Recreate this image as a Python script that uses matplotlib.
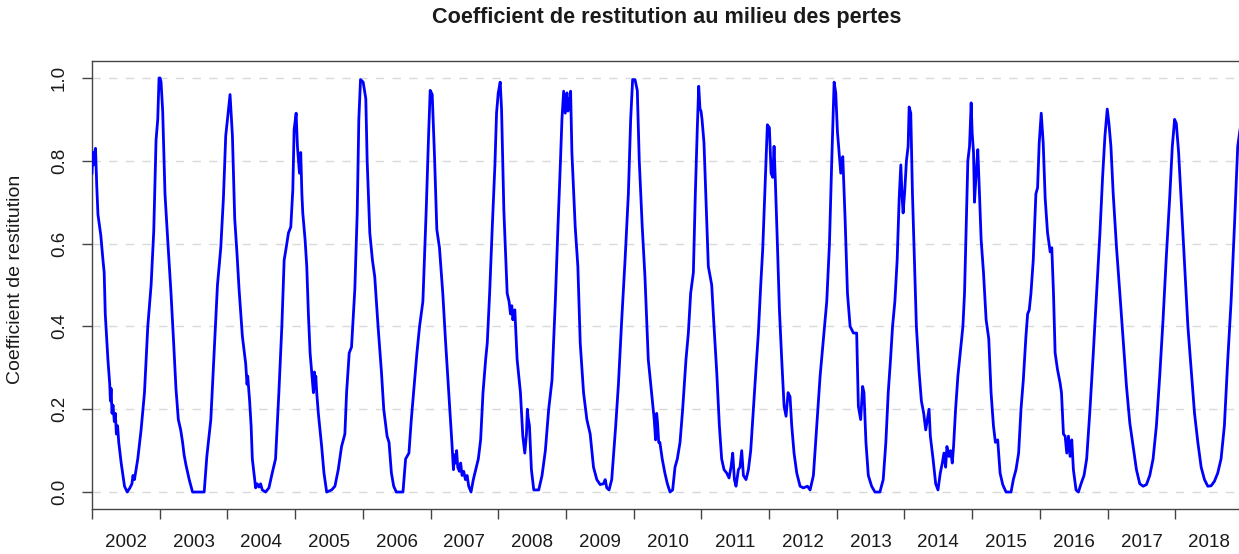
import numpy as np
import matplotlib
matplotlib.use("Agg")
import matplotlib.pyplot as plt
from matplotlib.ticker import FixedLocator, NullFormatter

# Weekly-ish readings of the restitution coefficient (decimal year, value)
dates = [
    2002.000, 2002.012, 2002.025, 2002.039, 2002.052, 2002.070, 2002.088, 2002.130, 2002.162, 2002.180,
    2002.196, 2002.235, 2002.262, 2002.272, 2002.282, 2002.296, 2002.310, 2002.330, 2002.345, 2002.360,
    2002.378, 2002.395, 2002.431, 2002.480, 2002.520, 2002.560, 2002.590, 2002.605, 2002.627, 2002.676,
    2002.725, 2002.775, 2002.824, 2002.873, 2002.912, 2002.946, 2002.971, 2002.990, 2003.005,
    2003.020, 2003.044, 2003.078, 2003.118, 2003.167, 2003.206, 2003.240, 2003.275, 2003.310, 2003.338,
    2003.360, 2003.387, 2003.436, 2003.485, 2003.657, 2003.696, 2003.755, 2003.804, 2003.853, 2003.902,
    2003.941, 2003.975,
    2004.010, 2004.039, 2004.074, 2004.108, 2004.140, 2004.172, 2004.221, 2004.270, 2004.290, 2004.300,
    2004.328, 2004.350, 2004.368, 2004.417, 2004.440, 2004.466, 2004.490, 2004.515, 2004.564, 2004.613,
    2004.662, 2004.711, 2004.760, 2004.804, 2004.838, 2004.868, 2004.902, 2004.936, 2004.966, 2004.985,
    2005.015, 2005.034, 2005.050, 2005.064, 2005.083, 2005.100, 2005.113, 2005.147, 2005.172, 2005.196,
    2005.221, 2005.270, 2005.285, 2005.294, 2005.305, 2005.319, 2005.343, 2005.392, 2005.426, 2005.466,
    2005.539, 2005.588, 2005.637, 2005.686, 2005.735, 2005.760, 2005.799, 2005.833, 2005.882, 2005.917,
    2005.941, 2005.966,
    2006.005, 2006.025, 2006.044, 2006.064, 2006.103, 2006.142, 2006.176, 2006.225, 2006.275, 2006.309,
    2006.358, 2006.387, 2006.422, 2006.456, 2006.495, 2006.593, 2006.632, 2006.681, 2006.716, 2006.765,
    2006.799, 2006.838, 2006.887, 2006.936, 2006.971, 2006.995,
    2007.025, 2007.059, 2007.093, 2007.132, 2007.181, 2007.221, 2007.270, 2007.319, 2007.338, 2007.355,
    2007.368, 2007.385, 2007.402, 2007.426, 2007.445, 2007.466, 2007.490, 2007.515, 2007.540, 2007.564,
    2007.598, 2007.632, 2007.667, 2007.706, 2007.740, 2007.775, 2007.814, 2007.838, 2007.873, 2007.912,
    2007.951, 2007.975,
    2008.000, 2008.029, 2008.049, 2008.083, 2008.132, 2008.160, 2008.181, 2008.200, 2008.216, 2008.245,
    2008.279, 2008.328, 2008.363, 2008.392, 2008.417, 2008.430, 2008.441, 2008.461, 2008.490, 2008.525,
    2008.598, 2008.647, 2008.696, 2008.745, 2008.794, 2008.843, 2008.882, 2008.917, 2008.941, 2008.966,
    2008.990,
    2009.015, 2009.030, 2009.039, 2009.055, 2009.069, 2009.088, 2009.137, 2009.176, 2009.211, 2009.260,
    2009.309, 2009.358, 2009.407, 2009.456, 2009.505, 2009.554, 2009.580, 2009.603, 2009.637, 2009.676,
    2009.735, 2009.775, 2009.824, 2009.873, 2009.922, 2009.956, 2009.985,
    2010.020, 2010.054, 2010.083, 2010.127, 2010.167, 2010.216, 2010.265, 2010.304, 2010.324, 2010.340,
    2010.353, 2010.370, 2010.387, 2010.422, 2010.461, 2010.498, 2010.537, 2010.576, 2010.611, 2010.645,
    2010.685, 2010.724, 2010.773, 2010.808, 2010.842, 2010.882, 2010.911, 2010.941, 2010.961, 2010.980,
    2010.995,
    2011.010, 2011.039, 2011.069, 2011.103, 2011.153, 2011.187, 2011.227, 2011.266, 2011.300, 2011.335,
    2011.374, 2011.409, 2011.438, 2011.463, 2011.488, 2011.512, 2011.547, 2011.571, 2011.596, 2011.621,
    2011.660, 2011.695, 2011.729, 2011.768, 2011.808, 2011.842, 2011.877, 2011.906, 2011.941, 2011.975,
    2012.005, 2012.030, 2012.054, 2012.074, 2012.094, 2012.123, 2012.153, 2012.187, 2012.222, 2012.251,
    2012.281, 2012.310, 2012.335, 2012.369, 2012.409, 2012.458, 2012.507, 2012.567, 2012.606, 2012.655,
    2012.704, 2012.754, 2012.803, 2012.852, 2012.892, 2012.926, 2012.961, 2012.985,
    2013.010, 2013.034, 2013.059, 2013.089, 2013.123, 2013.158, 2013.197, 2013.246, 2013.294, 2013.319,
    2013.353, 2013.382, 2013.402, 2013.431, 2013.466, 2013.515, 2013.564, 2013.637, 2013.686, 2013.725,
    2013.760, 2013.794, 2013.824, 2013.858, 2013.892, 2013.922, 2013.946, 2013.966, 2013.980,
    2014.005, 2014.029, 2014.054, 2014.069, 2014.093, 2014.118, 2014.152, 2014.176, 2014.216, 2014.250,
    2014.284, 2014.314, 2014.338, 2014.363, 2014.382, 2014.422, 2014.461, 2014.495, 2014.529, 2014.559,
    2014.583, 2014.608, 2014.627, 2014.657, 2014.681, 2014.706, 2014.725, 2014.755, 2014.789, 2014.824,
    2014.863, 2014.887, 2014.912, 2014.936, 2014.961, 2014.985,
    2015.000, 2015.020, 2015.034, 2015.059, 2015.083, 2015.108, 2015.132, 2015.167, 2015.206, 2015.245,
    2015.279, 2015.314, 2015.343, 2015.377, 2015.412, 2015.451, 2015.500, 2015.574, 2015.608, 2015.647,
    2015.686, 2015.721, 2015.755, 2015.794, 2015.819, 2015.843, 2015.868, 2015.902, 2015.941, 2015.966,
    2015.990,
    2016.020, 2016.049, 2016.078, 2016.113, 2016.152, 2016.176, 2016.201, 2016.225, 2016.260, 2016.299,
    2016.319, 2016.348, 2016.373, 2016.397, 2016.422, 2016.446, 2016.471, 2016.495, 2016.534, 2016.569,
    2016.608, 2016.652, 2016.691, 2016.740, 2016.789, 2016.838, 2016.887, 2016.926, 2016.961, 2016.995,
    2017.020, 2017.049, 2017.083, 2017.132, 2017.181, 2017.230, 2017.279, 2017.328, 2017.377, 2017.426,
    2017.475, 2017.525, 2017.574, 2017.623, 2017.672, 2017.721, 2017.770, 2017.819, 2017.868, 2017.917,
    2017.956, 2017.990,
    2018.015, 2018.049, 2018.088, 2018.137, 2018.186, 2018.235, 2018.284, 2018.333, 2018.382, 2018.431,
    2018.480, 2018.529, 2018.578, 2018.627, 2018.676, 2018.725, 2018.775, 2018.824, 2018.873, 2018.922,
    2018.960,
]
coef = [
    0.77, 0.82, 0.79, 0.82, 0.83, 0.74, 0.67, 0.62, 0.56, 0.53,
    0.43, 0.32, 0.26, 0.22, 0.25, 0.19, 0.21, 0.17, 0.19, 0.14,
    0.16, 0.12, 0.07, 0.014, 0.0, 0.01, 0.02, 0.04, 0.03, 0.08,
    0.15, 0.24, 0.40, 0.50, 0.63, 0.85, 0.90, 1.0, 1.0,
    0.99, 0.92, 0.72, 0.61, 0.48, 0.36, 0.25, 0.175, 0.15, 0.12,
    0.09, 0.066, 0.03, 0.0, 0.0, 0.086, 0.175, 0.34, 0.50, 0.59,
    0.71, 0.86,
    0.915, 0.96, 0.86, 0.66, 0.58, 0.49, 0.376, 0.31, 0.26, 0.28,
    0.22, 0.16, 0.08, 0.01, 0.02, 0.012, 0.02, 0.005, 0.0, 0.01,
    0.046, 0.08, 0.24, 0.40, 0.56, 0.59, 0.626, 0.64, 0.73, 0.875,
    0.915, 0.835, 0.80, 0.77, 0.82, 0.72, 0.674, 0.61, 0.545, 0.43,
    0.336, 0.24, 0.29, 0.25, 0.28, 0.24, 0.19, 0.11, 0.046, 0.0,
    0.005, 0.014, 0.054, 0.11, 0.14, 0.24, 0.336, 0.35, 0.49, 0.674,
    0.90, 0.996,
    0.99, 0.97, 0.95, 0.80, 0.626, 0.56, 0.52, 0.40, 0.29, 0.20,
    0.135, 0.12, 0.046, 0.014, 0.0, 0.0, 0.08, 0.094, 0.175, 0.27,
    0.336, 0.40, 0.46, 0.68, 0.86, 0.97,
    0.96, 0.81, 0.634, 0.59, 0.48, 0.366, 0.24, 0.11, 0.054, 0.09,
    0.07, 0.10, 0.06, 0.05, 0.07, 0.04, 0.05, 0.03, 0.04, 0.014,
    0.0, 0.03, 0.054, 0.08, 0.126, 0.24, 0.32, 0.36, 0.48, 0.64,
    0.79, 0.915,
    0.964, 0.99, 0.925, 0.68, 0.48, 0.46, 0.43, 0.45, 0.416, 0.44,
    0.32, 0.24, 0.135, 0.094, 0.14, 0.20, 0.18, 0.16, 0.054, 0.005,
    0.005, 0.04, 0.10, 0.20, 0.27, 0.46, 0.64, 0.79, 0.90, 0.968,
    0.915,
    0.964, 0.92, 0.95, 0.93, 0.968, 0.82, 0.64, 0.545, 0.36, 0.24,
    0.175, 0.14, 0.06, 0.03, 0.018, 0.02, 0.03, 0.01, 0.005, 0.03,
    0.16, 0.26, 0.416, 0.56, 0.72, 0.90, 0.996,
    0.996, 0.97, 0.80, 0.64, 0.52, 0.32, 0.24, 0.175, 0.126, 0.19,
    0.167, 0.12, 0.12, 0.08, 0.046, 0.02, 0.0, 0.005, 0.06, 0.08,
    0.12, 0.20, 0.32, 0.384, 0.48, 0.53, 0.72, 0.883, 0.98, 0.925,
    0.92,
    0.90, 0.843, 0.70, 0.545, 0.50, 0.40, 0.29, 0.16, 0.08, 0.054,
    0.046, 0.034, 0.06, 0.094, 0.03, 0.014, 0.054, 0.06, 0.10, 0.04,
    0.03, 0.054, 0.10, 0.20, 0.30, 0.384, 0.50, 0.585, 0.74, 0.887,
    0.88, 0.77, 0.76, 0.835, 0.745, 0.60, 0.44, 0.32, 0.207, 0.183,
    0.24, 0.23, 0.16, 0.094, 0.046, 0.014, 0.01, 0.014, 0.005, 0.04,
    0.16, 0.28, 0.37, 0.46, 0.60, 0.80, 0.99, 0.964,
    0.87, 0.82, 0.77, 0.81, 0.66, 0.48, 0.40, 0.384, 0.384, 0.207,
    0.175, 0.255, 0.24, 0.12, 0.04, 0.014, 0.0, 0.0, 0.03, 0.12,
    0.24, 0.32, 0.40, 0.46, 0.56, 0.71, 0.79, 0.71, 0.674,
    0.73, 0.80, 0.835, 0.93, 0.915, 0.72, 0.53, 0.40, 0.29, 0.22,
    0.19, 0.15, 0.175, 0.20, 0.135, 0.08, 0.02, 0.005, 0.046, 0.07,
    0.094, 0.06, 0.11, 0.086, 0.10, 0.07, 0.11, 0.20, 0.28, 0.336,
    0.40, 0.48, 0.64, 0.80, 0.835, 0.94,
    0.867, 0.82, 0.70, 0.77, 0.827, 0.72, 0.61, 0.53, 0.416, 0.37,
    0.24, 0.16, 0.12, 0.126, 0.046, 0.018, 0.0, 0.0, 0.03, 0.054,
    0.094, 0.20, 0.27, 0.376, 0.43, 0.44, 0.48, 0.56, 0.72, 0.735,
    0.843,
    0.915, 0.843, 0.71, 0.626, 0.58, 0.59, 0.48, 0.336, 0.296, 0.263,
    0.24, 0.14, 0.135, 0.094, 0.135, 0.086, 0.126, 0.054, 0.005, 0.0,
    0.02, 0.04, 0.08, 0.20, 0.336, 0.48, 0.626, 0.76, 0.86, 0.925,
    0.89, 0.835, 0.72, 0.59, 0.48, 0.366, 0.255, 0.167, 0.11, 0.054,
    0.02, 0.014, 0.018, 0.04, 0.08, 0.16, 0.28, 0.416, 0.57, 0.71,
    0.835, 0.90,
    0.89, 0.82, 0.70, 0.545, 0.40, 0.296, 0.19, 0.12, 0.06, 0.03,
    0.014, 0.015, 0.026, 0.046, 0.08, 0.16, 0.32, 0.46, 0.64, 0.835,
    0.88,
]

years = list(range(2002, 2019))
y_ticks = [0.0, 0.2, 0.4, 0.6, 0.8, 1.0]

plt.rcParams['font.family'] = ['Liberation Sans', 'DejaVu Sans']
text_col = '#1a1a1a'

fig = plt.figure(figsize=(12.39, 5.54), dpi=100)
ax = fig.add_axes([92 / 1239, 45 / 554, 1151 / 1239, 448 / 554])

ax.plot(dates, coef, color='#0000ff', linewidth=2.0, zorder=3)

ax.set_xlim(2002, 2019)
ax.set_ylim(-0.041, 1.041)

# year boundaries as ticks, labels sitting in the middle of each year
ax.xaxis.set_major_locator(FixedLocator(years + [2019]))
ax.xaxis.set_major_formatter(NullFormatter())
ax.xaxis.set_minor_locator(FixedLocator([y + 0.5 for y in years]))
ax.set_xticklabels([str(y) for y in years], minor=True)
ax.tick_params(axis='x', which='major', length=7.2, width=1.0, color='#444444')
ax.tick_params(axis='x', which='minor', length=0, pad=18, labelsize=13.5, labelcolor=text_col)

ax.set_yticks(y_ticks)
ax.set_yticklabels(['%.1f' % v for v in y_ticks])
ax.tick_params(axis='y', length=7.2, width=1.0, color='#444444', pad=10,
               labelsize=13.5, labelcolor=text_col, labelrotation=90)
for lbl in ax.get_yticklabels():
    lbl.set_va('center')

ax.yaxis.grid(True, linestyle=(0, (6, 6)), color='#d9d9d9', linewidth=1.0, zorder=0)

for s in ax.spines.values():
    s.set_color('#444444')
    s.set_linewidth(1.0)

fig.text(16 / 1239, 1 - 279 / 554, 'Coefficient de restitution', rotation=90,
         ha='center', va='center', fontsize=14, color=text_col)
fig.text(667 / 1239, 1 - 18 / 554, 'Coefficient de restitution au milieu des pertes',
         ha='center', va='center', fontsize=15.6, fontweight='bold', color=text_col)

fig.savefig('out.png', dpi=100)
